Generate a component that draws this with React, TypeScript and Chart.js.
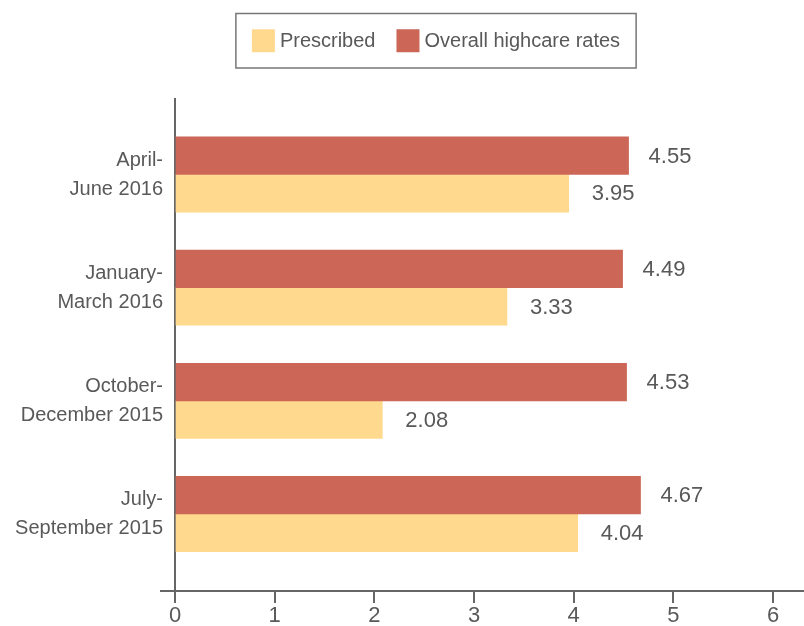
import React, { useEffect, useRef } from "react";
import { Chart, registerables } from "chart.js";

Chart.register(...registerables);

const categories: string[][] = [
  ["April-", "June 2016"],
  ["January-", "March 2016"],
  ["October-", "December 2015"],
  ["July-", "September 2015"],
];
const overallRates = [4.55, 4.49, 4.53, 4.67];
const prescribedRates = [3.95, 3.33, 2.08, 4.04];
const seriesNames = ["Overall highcare rates", "Prescribed"];
const seriesColors = ["#CC6657", "#FFDA8E"];
const legendOrder = [1, 0];
const xTickValues = [0, 1, 2, 3, 4, 5, 6];
const xMin = 0;
const xMax = 6.31;

const FONT = "'Liberation Sans', Arial, sans-serif";
const TEXT = "#595959";
const AXIS = "#666666";

const valueLabels = {
  id: "valueLabels",
  afterDatasetsDraw(chart: any) {
    const ctx = chart.ctx;
    ctx.save();
    ctx.font = `22px ${FONT}`;
    ctx.fillStyle = TEXT;
    ctx.textAlign = "left";
    ctx.textBaseline = "middle";
    const offsets = [20, 23];
    chart.data.datasets.forEach((ds: any, di: number) => {
      const meta = chart.getDatasetMeta(di);
      meta.data.forEach((el: any, i: number) => {
        const v = ds.data[i].x;
        ctx.fillText(v.toFixed(2), el.x + offsets[di], el.y + 1);
      });
    });
    ctx.restore();
  },
};

const boxLegend = {
  id: "boxLegend",
  afterDraw(chart: any) {
    const ctx = chart.ctx;
    ctx.save();
    ctx.font = `20px ${FONT}`;
    const pad = 16;
    const sq = 23;
    const gap = 5;
    const itemGap = 21;
    const widths = legendOrder.map((i) => ctx.measureText(chart.data.datasets[i].label).width);
    const total = pad * 2 + widths.reduce((a: number, w: number) => a + sq + gap + w, 0) + itemGap * (widths.length - 1);
    const cx = 436;
    const left = cx - total / 2;
    const top = 13.5;
    const h = 54.5;
    ctx.strokeStyle = "#777777";
    ctx.lineWidth = 1.5;
    ctx.strokeRect(left, top, total, h);
    let x = left + pad;
    const cy = top + h / 2;
    legendOrder.forEach((di, k) => {
      const ds = chart.data.datasets[di];
      ctx.fillStyle = ds.backgroundColor;
      ctx.fillRect(x, cy - sq / 2, sq, sq);
      x += sq + gap;
      ctx.fillStyle = TEXT;
      ctx.textAlign = "left";
      ctx.textBaseline = "middle";
      ctx.fillText(ds.label, x, cy + 1);
      x += widths[k] + itemGap;
    });
    ctx.restore();
  },
};

const axisExtension = {
  id: "axisExtension",
  afterDraw(chart: any) {
    const ctx = chart.ctx;
    const a = chart.chartArea;
    ctx.save();
    ctx.strokeStyle = AXIS;
    ctx.lineWidth = 2;
    ctx.beginPath();
    ctx.moveTo(160, a.bottom);
    ctx.lineTo(a.left, a.bottom);
    ctx.stroke();
    ctx.restore();
  },
};

export default function App() {
  const ref = useRef<HTMLCanvasElement | null>(null);

  useEffect(() => {
    document.body.style.margin = "0";
    const canvas = ref.current;
    if (!canvas) return;
    const chart = new Chart(canvas, {
      type: "bar",
      data: {
        datasets: [
          {
            label: seriesNames[0],
            data: overallRates.map((v, i) => ({ x: v, y: i })),
            backgroundColor: seriesColors[0],
            borderWidth: 0,
            barThickness: 37.6,
          },
          {
            label: seriesNames[1],
            data: prescribedRates.map((v, i) => ({ x: v, y: i })),
            backgroundColor: seriesColors[1],
            borderWidth: 0,
            barThickness: 37.6,
          },
        ],
      },
      options: {
        indexAxis: "y",
        animation: false,
        responsive: true,
        maintainAspectRatio: false,
        layout: { padding: { top: 99, left: 0, right: 0, bottom: 0 } },
        plugins: {
          legend: { display: false },
          tooltip: { enabled: false },
        },
        scales: {
          x: {
            type: "linear",
            position: "bottom",
            bounds: "data",
            min: xMin,
            max: xMax,
            afterBuildTicks(scale: any) {
              scale.ticks = xTickValues.map((v) => ({ value: v }));
            },
            afterFit(scale: any) {
              scale.height = 35;
            },
            border: { display: true, color: AXIS, width: 2 },
            grid: {
              display: true,
              drawOnChartArea: false,
              drawTicks: true,
              tickLength: 12,
              color: AXIS,
              lineWidth: 2,
            },
            ticks: {
              padding: 0,
              color: TEXT,
              font: { family: FONT, size: 22 },
            },
          },
          y: {
            type: "linear",
            position: "left",
            bounds: "data",
            offset: false,
            reverse: true,
            min: -0.667,
            max: 3.68,
            afterBuildTicks(scale: any) {
              scale.ticks = categories.map((_, i) => ({ value: i }));
            },
            afterFit(scale: any) {
              scale.width = 175;
              scale.paddingTop = 0;
              scale.paddingBottom = 0;
            },
            border: { display: true, color: AXIS, width: 2 },
            grid: { display: false, drawTicks: false, offset: false },
            ticks: {
              autoSkip: false,
              padding: 12,
              color: TEXT,
              font: { family: FONT, size: 20, lineHeight: 1.45 },
              callback: (value: any) => categories[Math.round(value)] ?? "",
            },
          },
        },
      },
      plugins: [valueLabels, boxLegend, axisExtension],
    } as any);
    return () => chart.destroy();
  }, []);

  return (
    <div style={{ width: 804, height: 626, position: "relative" }}>
      <canvas ref={ref} style={{ display: "block" }} />
    </div>
  );
}
